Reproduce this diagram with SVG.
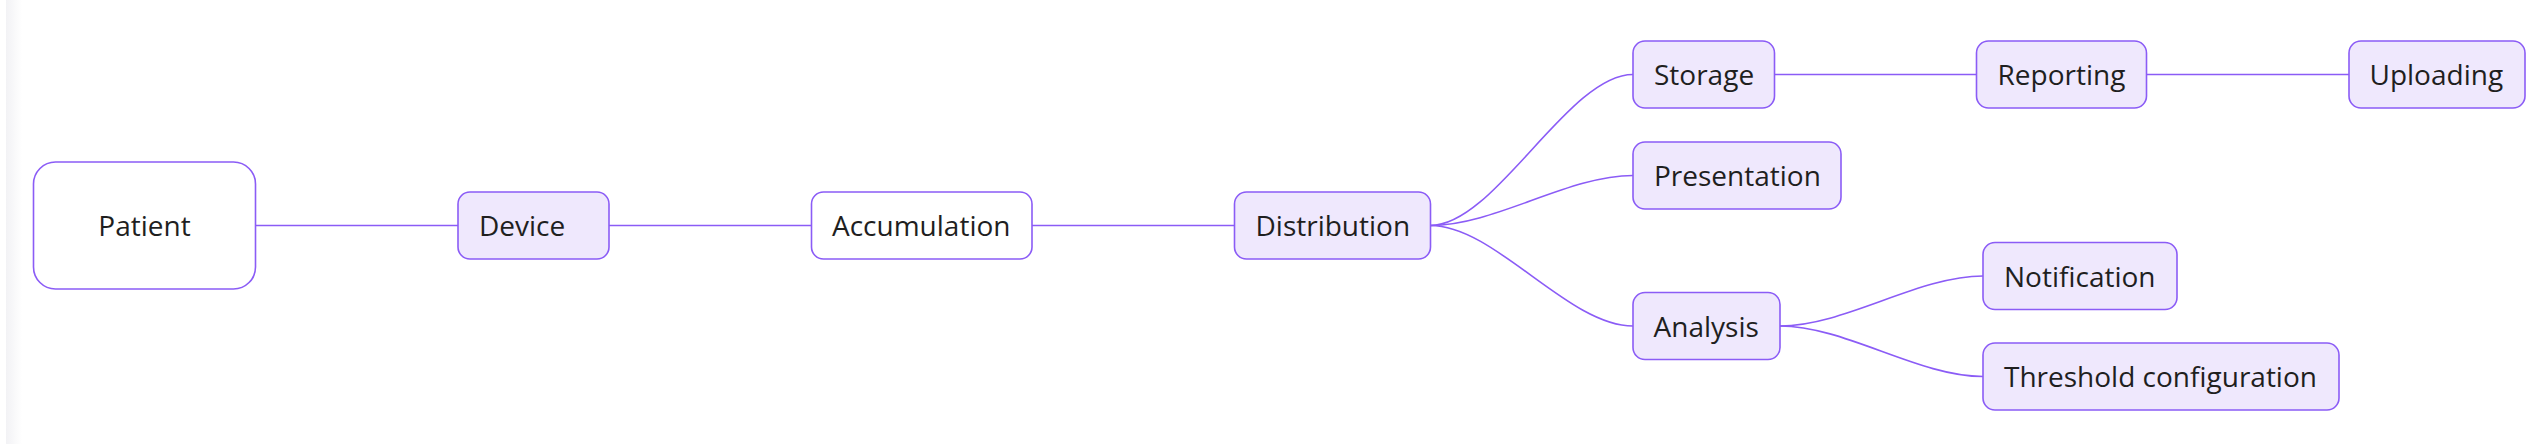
<svg xmlns="http://www.w3.org/2000/svg" width="2534" height="444" viewBox="0 0 2534 444">
  <defs>
    <linearGradient id="edgeShade" x1="0" y1="0" x2="1" y2="0">
      <stop offset="0" stop-color="#f2f2f5"/>
      <stop offset="1" stop-color="#ffffff"/>
    </linearGradient>
    <style>
      .node rect { fill: #efe8fd; stroke: #8b5cf6; stroke-width: 1.6; }
      .node.plain rect { fill: #ffffff; }
      .node text { font-family: "Open Sans", "Noto Sans", sans-serif; font-size: 28px; fill: #1f1f1f; }
      .edges path { fill: none; stroke: #8b5cf6; stroke-width: 1.6; }
    </style>
  </defs>
  <rect x="0" y="0" width="2534" height="444" fill="#ffffff"/>
  <rect x="6" y="0" width="16" height="444" fill="url(#edgeShade)"/>

  <g id="connectors" class="edges">
    <path d="M255.5,225.5 H458"/>
    <path d="M609,225.5 H811.5"/>
    <path d="M1032,225.5 H1234.5"/>
    <path d="M1430.5,225.5 C1495,225.5 1568,74.5 1633,74.5"/>
    <path d="M1430.5,225.5 C1495,225.5 1568,175.5 1633,175.5"/>
    <path d="M1430.5,225.5 C1495,225.5 1568,326 1633,326"/>
    <path d="M1774.5,74.5 H1976.5"/>
    <path d="M2146.5,74.5 H2349"/>
    <path d="M1780,326 C1845,326 1918,276 1983,276"/>
    <path d="M1780,326 C1845,326 1918,376.5 1983,376.5"/>
  </g>

  <g id="patient" class="node plain">
    <rect x="33.5" y="162" width="222" height="127" rx="22"/>
    <text x="144.5" y="236" text-anchor="middle">Patient</text>
  </g>
  <g id="device" class="node">
    <rect x="458" y="192" width="151" height="67" rx="12"/>
    <text x="479" y="236">Device</text>
  </g>
  <g id="accumulation" class="node plain">
    <rect x="811.5" y="192" width="220.5" height="67" rx="12"/>
    <text x="832" y="236">Accumulation</text>
  </g>
  <g id="distribution" class="node">
    <rect x="1234.5" y="192" width="196" height="67" rx="12"/>
    <text x="1255.5" y="236">Distribution</text>
  </g>
  <g id="storage" class="node">
    <rect x="1633" y="41" width="141.5" height="67" rx="12"/>
    <text x="1654" y="85">Storage</text>
  </g>
  <g id="presentation" class="node">
    <rect x="1633" y="142" width="208" height="67" rx="12"/>
    <text x="1654" y="186">Presentation</text>
  </g>
  <g id="analysis" class="node">
    <rect x="1633" y="292.5" width="147" height="67" rx="12"/>
    <text x="1653.5" y="336.5">Analysis</text>
  </g>
  <g id="reporting" class="node">
    <rect x="1976.5" y="41" width="170" height="67" rx="12"/>
    <text x="1997.5" y="85">Reporting</text>
  </g>
  <g id="uploading" class="node">
    <rect x="2349" y="41" width="176" height="67" rx="12"/>
    <text x="2369.5" y="85">Uploading</text>
  </g>
  <g id="notification" class="node">
    <rect x="1983" y="242.5" width="194" height="67" rx="12"/>
    <text x="2004" y="286.5">Notification</text>
  </g>
  <g id="threshold-configuration" class="node">
    <rect x="1983" y="343" width="356" height="67" rx="12"/>
    <text x="2004" y="387">Threshold configuration</text>
  </g>
</svg>
